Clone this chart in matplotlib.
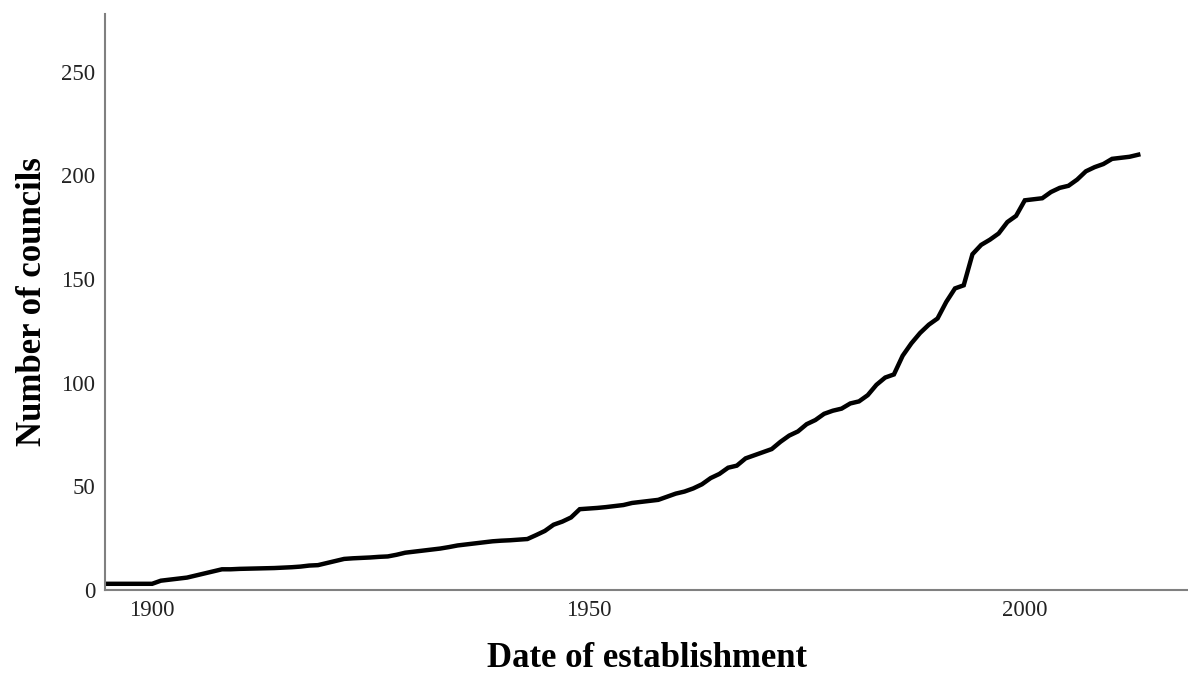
import numpy as np
import matplotlib
matplotlib.use('Agg')
import matplotlib.pyplot as plt

plt.rcParams['font.family'] = ['Liberation Serif', 'DejaVu Serif']

# cumulative number of councils by year
years = np.arange(1894, 2014)
councils = [
    3, 3, 3, 3, 3, 3,                      # 1894-1899
    3, 4.5, 5, 5.5, 6, 7, 8, 9, 10, 10,    # 1900-1909
    10.2, 10.3, 10.4, 10.5, 10.6, 10.8, 11, 11.3, 11.8, 12,   # 1910s
    13, 14, 15, 15.3, 15.5, 15.7, 16, 16.2, 17, 18,           # 1920s
    18.5, 19, 19.5, 20, 20.7, 21.5, 22, 22.5, 23, 23.5,       # 1930s
    23.8, 24, 24.3, 24.6, 26.5, 28.5, 31.5, 33, 35, 39,       # 1940s
    39.3, 39.6, 40, 40.5, 41, 42, 42.5, 43, 43.5, 45,         # 1950s
    46.5, 47.5, 49, 51, 54, 56, 59, 60, 63.5, 65,             # 1960s
    66.5, 68, 71.5, 74.5, 76.5, 80, 82, 85, 86.5, 87.5,       # 1970s
    90, 91, 94, 99, 102.5, 104, 113, 119, 124, 128,           # 1980s
    131, 139, 145.5, 147, 162, 166.5, 169, 172, 177.5, 180.5, # 1990s
    188, 188.5, 189, 192, 194, 195, 198, 202, 204, 205.5,     # 2000s
    208, 208.5, 209, 210,                                     # 2010-2013
]

fig = plt.figure(figsize=(11.88, 6.74), dpi=100)
ax = fig.add_axes([0.0884, 0.1246, 0.9116, 0.855])

ax.plot(years, councils, color='black', lw=3.2, solid_joinstyle='miter')

ax.set_xlim(1894.6, 2018.7)
ax.set_ylim(0, 278)
ax.set_xticks([1900, 1950, 2000])
ax.set_yticks([0, 50, 100, 150, 200, 250])
ax.tick_params(length=0, labelsize=16.5, colors='#222222', pad=7)

for s in ['top', 'right']:
    ax.spines[s].set_visible(False)
for s in ['left', 'bottom']:
    ax.spines[s].set_color('#808080')
    ax.spines[s].set_linewidth(1.5)

ax.set_xlabel('Date of establishment', fontsize=25, fontweight='bold', labelpad=15)
ax.set_ylabel('Number of councils', fontsize=25, fontweight='bold', labelpad=9)

fig.savefig('out.png', dpi=100)
